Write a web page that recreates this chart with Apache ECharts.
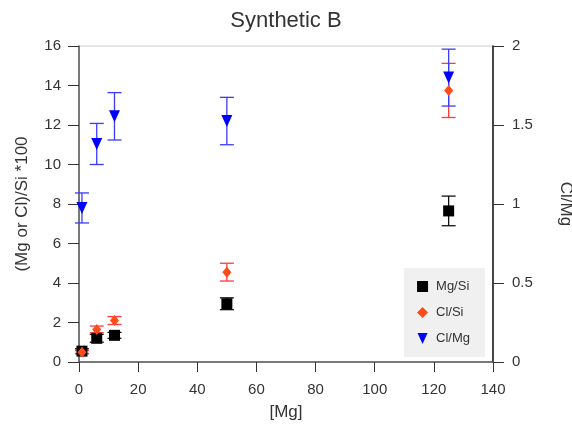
<!DOCTYPE html>
<html><head><meta charset="utf-8">
<script src="https://cdn.jsdelivr.net/npm/echarts@6/dist/echarts.min.js"></script>
<style>html,body{margin:0;padding:0;background:#fff}#c{width:572px;height:430px}</style>
</head><body><div id="c"></div>
<script>
const mgX = [1, 6, 12, 50, 125];
const mgSi = [0.55, 1.2, 1.35, 2.95, 7.65];
const mgSiErr = [0.12, 0.2, 0.15, 0.3, 0.75];
const clSi = [0.5, 1.65, 2.1, 4.55, 13.75];
const clSiErr = [0.08, 0.17, 0.2, 0.45, 1.37];
const clMg = [0.975, 1.38, 1.555, 1.525, 1.80];
const clMgErr = [0.095, 0.13, 0.15, 0.15, 0.18];
const seriesNames = ['Mg/Si', 'Cl/Si', 'Cl/Mg'];

function errData(ys, es){ return mgX.map((x,i)=>[x, ys[i]-es[i], ys[i]+es[i]]); }
function errSeries(ys, es, color, yIdx){
  return {
    type:'custom', yAxisIndex:yIdx, silent:true, z:1,
    data: errData(ys, es),
    renderItem: function(params, api){
      const top = api.coord([api.value(0), api.value(2)]);
      const bot = api.coord([api.value(0), api.value(1)]);
      const hw = 7;
      const st = {stroke: color, lineWidth: 1.3};
      return {type:'group', children:[
        {type:'line', shape:{x1:top[0],y1:top[1],x2:bot[0],y2:bot[1]}, style:st},
        {type:'line', shape:{x1:top[0]-hw,y1:top[1],x2:top[0]+hw,y2:top[1]}, style:st},
        {type:'line', shape:{x1:bot[0]-hw,y1:bot[1],x2:bot[0]+hw,y2:bot[1]}, style:st}
      ]};
    }
  };
}
const chart = echarts.init(document.getElementById('c'));
const txt = '#333';
const font = 'Liberation Sans';
chart.setOption({
  animation:false,
  title:{text:'Synthetic B', left:'center', top:5, textStyle:{fontFamily:font, fontSize:22, fontWeight:'normal', color:txt}},
  grid:{left:79, right:79, top:46, bottom:68, show:true, borderColor:'#ccc', borderWidth:1, containLabel:false, outerBoundsMode:'none'},
  legend:{
    data:[
      {name:seriesNames[0], icon:'rect', itemStyle:{color:'#000'}},
      {name:seriesNames[1], icon:'diamond'},
      {name:seriesNames[2], icon:'path://M0,0L10,0L5,11Z'}
    ],
    orient:'vertical', right:87, top:268,
    backgroundColor:'#f0f0f0', padding:[12,15,12,13], itemGap:13, itemWidth:11, itemHeight:11,
    textStyle:{fontFamily:font, fontSize:13, color:txt, padding:[0,0,0,3]}
  },
  xAxis:{type:'value', min:0, max:140, interval:20, name:'[Mg]', nameLocation:'middle', nameGap:42,
    nameTextStyle:{fontFamily:font, fontSize:17, color:txt},
    axisLine:{lineStyle:{color:'#555', width:1.5}}, axisTick:{length:10, lineStyle:{color:'#333'}},
    axisLabel:{fontFamily:font, fontSize:15, color:txt, margin:20}, splitLine:{show:false}},
  yAxis:[
    {type:'value', min:0, max:16, interval:2, name:'(Mg or Cl)/Si *100', nameLocation:'middle', nameGap:48,
     nameTextStyle:{fontFamily:font, fontSize:17, color:txt},
     axisLine:{show:true, lineStyle:{color:'#555', width:1.5}}, axisTick:{show:true, length:11, lineStyle:{color:'#333'}},
     axisLabel:{fontFamily:font, fontSize:15, color:txt, margin:18}, splitLine:{show:false}},
    {type:'value', min:0, max:2, interval:0.5, name:'Cl/Mg', nameLocation:'middle', nameGap:64, nameRotate:-90,
     nameTextStyle:{fontFamily:font, fontSize:17, color:txt},
     axisLine:{show:true, lineStyle:{color:'#111', width:1.5}}, axisTick:{show:true, length:11, lineStyle:{color:'#333'}},
     axisLabel:{fontFamily:font, fontSize:15, color:txt, margin:19}, splitLine:{show:false}}
  ],
  series:[
    errSeries(mgSi, mgSiErr, '#111', 0),
    errSeries(clSi, clSiErr, '#ff3a3a', 0),
    errSeries(clMg, clMgErr, '#3b3bff', 1),
    {name:seriesNames[0], type:'scatter', yAxisIndex:0, z:3, symbol:'rect', symbolSize:11, itemStyle:{color:'#000', opacity:1},
     data: mgX.map((x,i)=>[x, mgSi[i]])},
    {name:seriesNames[1], type:'scatter', yAxisIndex:0, z:3, symbol:'diamond', symbolSize:[9,11], itemStyle:{color:'#ff4a1a', opacity:1},
     data: mgX.map((x,i)=>[x, clSi[i]])},
    {name:seriesNames[2], type:'scatter', yAxisIndex:1, z:3, symbol:'triangle', symbolRotate:180, symbolSize:[11,12], itemStyle:{color:'#0000ff', opacity:1},
     data: mgX.map((x,i)=>[x, clMg[i]])}
  ]
});
</script></body></html>
